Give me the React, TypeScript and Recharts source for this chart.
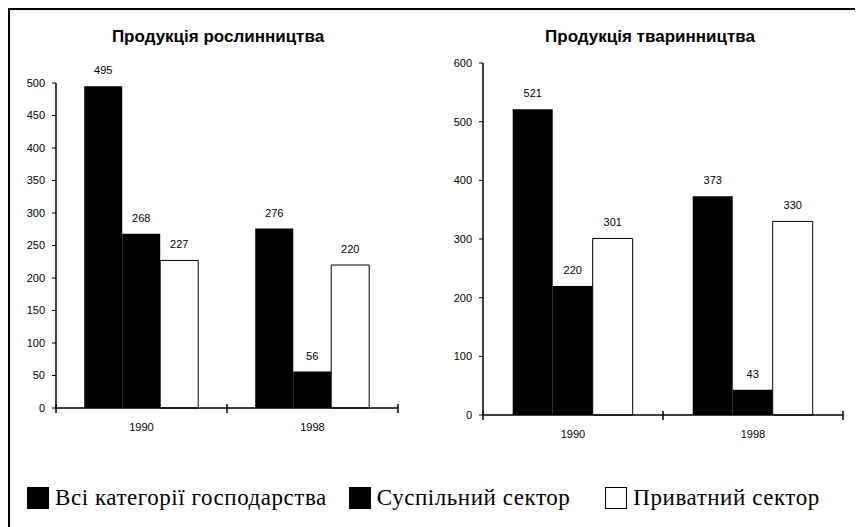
import React from 'react';
import { BarChart, Bar, XAxis, YAxis, LabelList } from 'recharts';

// categories and series
const years = ['1990', '1998'];
const seriesNames = ['Всі категорії господарства', 'Суспільний сектор', 'Приватний сектор'];

const cropAll = [495, 276];
const cropPublic = [268, 56];
const cropPrivate = [227, 220];
const cropTicks = [0, 50, 100, 150, 200, 250, 300, 350, 400, 450, 500];

const stockAll = [521, 373];
const stockPublic = [220, 43];
const stockPrivate = [301, 330];
const stockTicks = [0, 100, 200, 300, 400, 500, 600];

const FONT = 'Arial, "Liberation Sans", sans-serif';
const SERIF = "'Liberation Serif', Tinos, 'Noto Serif', 'DejaVu Serif', 'Times New Roman', Times, serif";

const buildRows = (all: number[], pub: number[], priv: number[]) =>
  years.map((y, i) => ({ year: y, all: all[i], pub: pub[i], priv: priv[i] }));

// category tick: label in the middle, tick marks on the band edges (Excel style)
const makeTick = (band: number) => (props: any) => {
  const { x, y, payload, index } = props;
  return (
    <g>
      <line x1={x - band / 2} x2={x - band / 2} y1={y - 4} y2={y + 5} stroke="#000" strokeWidth={1.5} />
      {index === years.length - 1 && (
        <line x1={x + band / 2} x2={x + band / 2} y1={y - 4} y2={y + 5} stroke="#000" strokeWidth={1.5} />
      )}
      <text x={x} y={y + 23} textAnchor="middle" fontSize={11} fontFamily={FONT} fill="#000">
        {payload.value}
      </text>
    </g>
  );
};

interface PanelProps {
  title: string;
  rows: any[];
  ticks: number[];
  left: number;
  top: number;
  axisW: number;
  plotW: number;
  plotH: number;
  titleX: number;
}

function Panel({ title, rows, ticks, left, top, axisW, plotW, plotH, titleX }: PanelProps) {
  const marginTop = 40;
  const width = axisW + plotW + 10;
  const height = marginTop + plotH + 40;
  const band = plotW / years.length;
  return (
    <>
      <div
        style={{
          position: 'absolute', left: titleX - 150, top: 17, width: 300, lineHeight: '20px',
          textAlign: 'center', fontFamily: FONT, fontWeight: 'bold', fontSize: 17,
        }}
      >
        {title}
      </div>
      <div style={{ position: 'absolute', left, top }}>
        <BarChart
          width={width}
          height={height}
          data={rows}
          margin={{ top: marginTop, right: 10, left: 0, bottom: 0 }}
          barGap={0}
          barCategoryGap="16.5%"
        >
          <YAxis
            width={axisW}
            domain={[0, ticks[ticks.length - 1]]}
            ticks={ticks}
            interval={0}
            stroke="#000"
            axisLine={{ stroke: '#000', strokeWidth: 1.5 }}
            tickLine={{ stroke: '#000' }}
            tickSize={4}
            tickMargin={7}
            tick={{ fontSize: 11, fontFamily: FONT, fill: '#000' }}
          />
          <XAxis
            dataKey="year"
            height={40}
            axisLine={{ stroke: '#000', strokeWidth: 1.5 }}
            tickLine={false}
            tickSize={0}
            tickMargin={0}
            interval={0}
            tick={makeTick(band)}
          />
          <Bar dataKey="all" name={seriesNames[0]} fill="#000" isAnimationActive={false}>
            <LabelList dataKey="all" position="top" offset={12} fontSize={11} fontFamily={FONT} fill="#000" />
          </Bar>
          <Bar dataKey="pub" name={seriesNames[1]} fill="#000" isAnimationActive={false}>
            <LabelList dataKey="pub" position="top" offset={12} fontSize={11} fontFamily={FONT} fill="#000" />
          </Bar>
          <Bar dataKey="priv" name={seriesNames[2]} fill="#fff" stroke="#000" strokeWidth={1} isAnimationActive={false}>
            <LabelList dataKey="priv" position="top" offset={12} fontSize={11} fontFamily={FONT} fill="#000" />
          </Bar>
        </BarChart>
      </div>
    </>
  );
}

export default function App() {
  const legendFill = ['#000', '#000', '#fff'];
  const gaps = [22, 35, 0];
  return (
    <div
      style={{
        position: 'relative', width: 855, height: 519, boxSizing: 'border-box',
        borderLeft: '2px solid #000', borderTop: '2px solid #000', background: '#fff',
      }}
    >
      {/* left panel: plot x 56..398, y 83..408 on the page */}
      <Panel
        title="Продукція рослинництва"
        rows={buildRows(cropAll, cropPublic, cropPrivate)}
        ticks={cropTicks}
        left={-2}
        top={33}
        axisW={48}
        plotW={342}
        plotH={325}
        titleX={208}
      />
      {/* right panel: plot x 483..843, y 63..415 */}
      <Panel
        title="Продукція тваринництва"
        rows={buildRows(stockAll, stockPublic, stockPrivate)}
        ticks={stockTicks}
        left={420}
        top={13}
        axisW={53}
        plotW={360}
        plotH={352}
        titleX={640}
      />
      <div
        style={{
          position: 'absolute', left: 17, top: 476, display: 'flex', alignItems: 'center',
          fontFamily: SERIF, fontSize: 23, lineHeight: '24px', letterSpacing: 0.55, color: '#000',
        }}
      >
        {seriesNames.map((n, i) => (
          <div key={n} style={{ display: 'flex', alignItems: 'center', marginRight: gaps[i] }}>
            <span
              style={{
                display: 'inline-block', width: 22, height: 22, background: legendFill[i],
                border: '1px solid #000', boxSizing: 'border-box', marginRight: 6,
              }}
            />
            <span>{n}</span>
          </div>
        ))}
      </div>
    </div>
  );
}
